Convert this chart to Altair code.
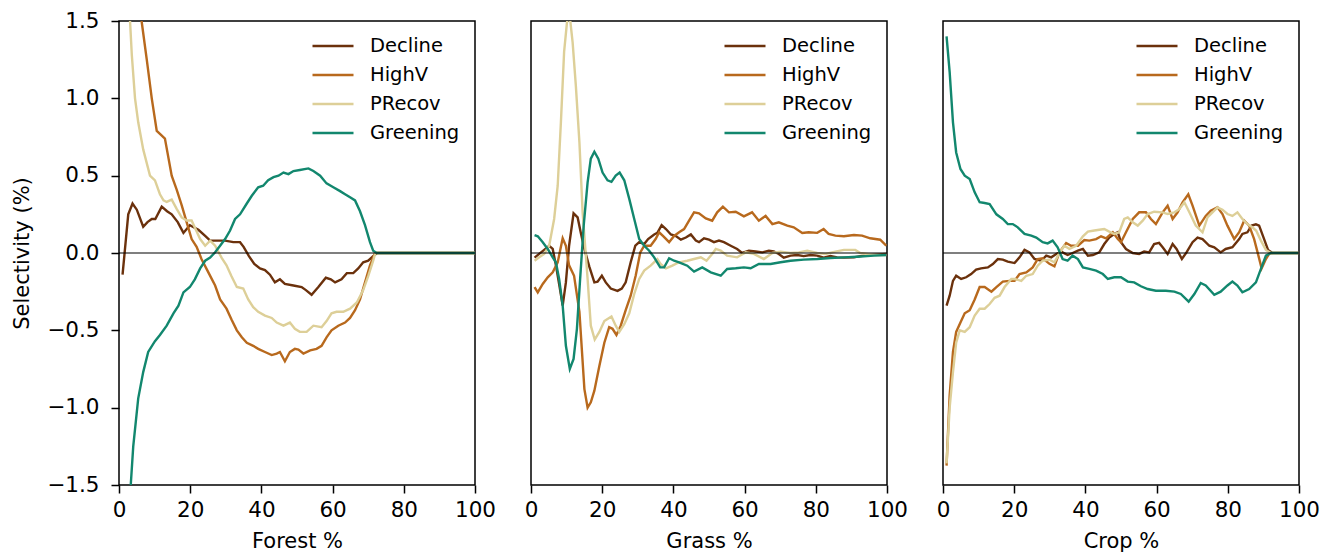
import altair as alt
import pandas as pd

SERIES = ["Decline", "HighV", "PRecov", "Greening"]
COLORS = ["#6b310c", "#b8691d", "#ddcf98", "#12876e"]
X_TICKS = [0, 20, 40, 60, 80, 100]
Y_TICKS = [-1.5, -1.0, -0.5, 0.0, 0.5, 1.0, 1.5]
PANEL_TITLES = ["Forest %", "Grass %", "Crop %"]

# ---------------- Forest panel ----------------
forest_decline = [(1,-0.14),(2.6,0.25),(3.8,0.32),(5,0.28),(6.8,0.17),(8,0.2),(9.2,0.22),(10.2,0.22),(12,0.30),(13.5,0.27),
    (14.8,0.25),(16.5,0.2),(18.1,0.13),(19.9,0.18),(22.3,0.15),(24.2,0.11),(25.6,0.08),(29.8,0.08),(32.1,0.07),(34,0.07),
    (35,0.04),(36.5,-0.02),(38,-0.07),(39.6,-0.10),(41,-0.11),(42.4,-0.14),(43.8,-0.19),(45.2,-0.17),(46.6,-0.20),(49,-0.21),
    (51.3,-0.22),(52.5,-0.24),(54.1,-0.27),(56,-0.22),(58.1,-0.16),(59.5,-0.17),(60.7,-0.19),(62.5,-0.17),(64,-0.13),(65.8,-0.13),
    (67.2,-0.10),(68.6,-0.06),(70,-0.05),(71.4,-0.02),(72.5,0),(100,0)]
forest_highv = [(1,3.0),(2,2.6),(3,2.2),(4,1.9),(5,1.7),(6.4,1.49),(7.8,1.25),(9.2,1.0),(10.6,0.79),(11.5,0.77),(12.9,0.74),
    (14.8,0.5),(16.2,0.41),(17.6,0.31),(19.0,0.20),(20.4,0.09),(21.8,0.04),(23.2,-0.04),(25.1,-0.125),(27,-0.21),(28.4,-0.30),
    (30.2,-0.36),(31.6,-0.43),(33.1,-0.50),(34.5,-0.545),(35.9,-0.58),(37.7,-0.60),(39.1,-0.62),(41,-0.64),(42.9,-0.66),(44.3,-0.65),
    (45.2,-0.64),(46.6,-0.70),(48,-0.64),(49.4,-0.62),(50.4,-0.625),(51.8,-0.65),(53.7,-0.63),(55.5,-0.62),(56.9,-0.60),(58.3,-0.545),
    (59.7,-0.50),(61.6,-0.47),(63.5,-0.45),(64.9,-0.42),(66.3,-0.37),(67.7,-0.30),(69.1,-0.19),(70.5,-0.08),(71.9,0),(100,0)]
forest_precov = [(1,2.5),(2,1.9),(3.1,1.5),(3.6,1.28),(4.5,1.0),(5.4,0.845),(6.8,0.67),(8.7,0.5),(10.1,0.47),(11.5,0.38),(12.5,0.34),
    (13.4,0.33),(14.8,0.345),(16.2,0.285),(17.6,0.23),(19,0.21),(20.4,0.21),(21.3,0.165),(22.8,0.09),(24.2,0.047),(25.6,0.08),
    (27,0.047),(28.8,-0.03),(30.2,-0.08),(31.6,-0.15),(33.1,-0.22),(34.9,-0.23),(36.3,-0.30),(37.7,-0.35),(39.1,-0.38),(41,-0.405),
    (42.9,-0.42),(44.3,-0.45),(46.2,-0.47),(48,-0.45),(49.4,-0.49),(50.8,-0.51),(52.7,-0.51),(54.6,-0.47),(56.9,-0.48),(58.3,-0.44),
    (59.7,-0.39),(61.1,-0.38),(63,-0.38),(64.9,-0.36),(66.8,-0.32),(68.6,-0.24),(70,-0.15),(71.4,-0.05),(72,0),(100,0)]
forest_greening = [(1,-3.2),(2,-2.3),(3.3,-1.5),(4.0,-1.25),(5.4,-0.94),(6.8,-0.77),(8.2,-0.64),(10.1,-0.57),(11.5,-0.53),(13.4,-0.47),
    (15.3,-0.39),(16.7,-0.34),(18.1,-0.255),(19.9,-0.22),(21.3,-0.17),(22.8,-0.10),(24.2,-0.05),(25.6,-0.03),(27,0.005),(28.4,0.047),
    (29.8,0.09),(31.2,0.145),(32.6,0.22),(34,0.25),(35.9,0.32),(37.3,0.37),(39.1,0.425),(40.5,0.435),(41.9,0.47),(43.4,0.49),
    (44.8,0.50),(46.2,0.52),(47.6,0.51),(49,0.53),(50.8,0.537),(53.2,0.547),(54.6,0.53),(56.5,0.50),(58.3,0.45),(60.2,0.425),
    (62.1,0.40),(63.5,0.38),(64.9,0.36),(66.3,0.34),(67.7,0.27),(69.1,0.18),(70.5,0.07),(71.4,0.015),(72.4,0),(100,0)]

# ---------------- Grass panel ----------------
grass_decline = [(1,-0.03),(2.3,-0.006),(3.7,0.02),(5.1,0.047),(6.1,0.026),(7,-0.08),(7.9,-0.20),(8.9,-0.34),(9.8,-0.19),(10.7,0.047),
    (11.96,0.256),(13.1,0.23),(14,0.13),(15,0.026),(16.4,-0.09),(17.8,-0.19),(18.7,-0.185),(19.9,-0.147),(21,-0.19),(22.4,-0.23),
    (24.3,-0.245),(25.5,-0.23),(26.6,-0.19),(28,-0.06),(29.3,0.047),(30.4,0.07),(31.8,0.058),(32.9,0.09),(34.6,0.12),(35.5,0.13),
    (36.7,0.18),(37.9,0.155),(39.3,0.12),(40.7,0.11),(42.1,0.086),(43.5,0.10),(44.9,0.12),(46.3,0.08),(47.2,0.07),(48.6,0.095),
    (50,0.086),(51.4,0.07),(52.8,0.08),(54.2,0.07),(56.1,0.047),(57.9,0.026),(59.3,0),(61.2,0.015),(63.1,0.01),(65,0.004),
    (66.8,0.015),(68.2,0.01),(69.6,-0.006),(71,-0.03),(72.9,-0.017),(74.8,-0.013),(76.6,-0.02),(78.5,-0.013),(80.4,-0.017),(82.2,-0.03),
    (84.1,-0.02),(86,-0.028),(87.9,-0.03),(90.7,-0.028),(92.5,-0.02),(95.3,-0.013),(99.8,-0.006)]
grass_highv = [(1,-0.22),(1.9,-0.255),(3.3,-0.20),(4.7,-0.157),(6.1,-0.125),(7.5,-0.06),(8.9,0.095),(9.8,0.047),(10.7,-0.08),(12.1,-0.147),
    (13.6,-0.38),(15,-0.88),(15.9,-1.0),(16.8,-0.965),(17.8,-0.89),(19.2,-0.73),(20.6,-0.58),(21.96,-0.48),(22.9,-0.49),(24,-0.53),
    (25.2,-0.47),(26.6,-0.37),(28,-0.276),(29.4,-0.147),(30.7,0.004),(31.8,0.047),(33.6,0.047),(35,0.09),(36,0.134),(37.2,0.108),
    (38.8,0.07),(40.2,0.11),(41.6,0.134),(43,0.155),(44.4,0.21),(45.8,0.263),(47.2,0.256),(49.1,0.224),(50.9,0.209),(52.3,0.263),
    (53.9,0.30),(55.6,0.263),(57.5,0.267),(59.8,0.237),(62.1,0.263),(64,0.209),(65.9,0.24),(67.8,0.187),(69.6,0.198),(72,0.177),
    (73.8,0.166),(76.2,0.13),(78,0.134),(80.4,0.13),(82.2,0.155),(83.6,0.123),(85.5,0.112),(87.9,0.108),(90.7,0.116),(93,0.112),
    (95.3,0.095),(98.1,0.086),(99.8,0.047)]
grass_precov = [(1,-0.05),(2.3,-0.028),(3.7,-0.006),(5.1,0.047),(6.5,0.22),(7.5,0.435),(8.4,0.845),(9.3,1.30),(10.1,1.49),(10.8,1.55),
    (11.7,1.36),(12.6,1.08),(13.6,0.716),(14.5,0.263),(15.9,-0.168),(16.8,-0.47),(17.9,-0.56),(19.2,-0.51),(20.6,-0.44),(22.6,-0.41),
    (23.8,-0.47),(24.8,-0.51),(26.2,-0.46),(27.6,-0.39),(29,-0.265),(30.4,-0.168),(31.8,-0.114),(33.6,-0.082),(35.5,-0.039),(36.4,-0.07),
    (37.9,-0.10),(39.7,-0.082),(41.6,-0.06),(43.9,-0.05),(45.8,-0.039),(47.7,-0.028),(49.3,-0.05),(50.9,-0.006),(51.9,0.026),(53.3,0.015),
    (55.1,-0.017),(57.9,-0.028),(60.3,0.004),(62.6,-0.006),(65.4,-0.039),(67.8,0),(70.1,0.009),(72.9,0),(75.2,0.004),(77.6,0.015),
    (80.4,0),(82.7,-0.006),(85.5,0.009),(87.9,0.02),(91.1,0.02),(92.5,0),(96.3,-0.013),(99.8,-0.013)]
grass_greening = [(1,0.116),(1.9,0.108),(3.3,0.07),(4.7,0.026),(6.1,-0.028),(7,-0.06),(7.9,-0.168),(8.9,-0.34),(9.8,-0.60),(10.9,-0.75),
    (11.96,-0.685),(12.9,-0.49),(13.8,-0.168),(14.8,0.177),(15.9,0.457),(16.8,0.61),(17.8,0.655),(18.9,0.61),(20.1,0.52),(21.5,0.47),
    (22.6,0.46),(23.8,0.50),(24.9,0.52),(26.2,0.47),(27.6,0.35),(29,0.22),(30.4,0.09),(31.8,0.047),(33.2,0.015),(34.6,-0.028),
    (36.3,-0.093),(37.4,-0.093),(38.8,-0.034),(40.2,-0.05),(41.6,-0.06),(43.9,-0.082),(45.8,-0.12),(48.1,-0.093),(50.5,-0.125),(53.3,-0.147),
    (55.1,-0.103),(57.5,-0.099),(59.8,-0.093),(61.7,-0.099),(64,-0.071),(67.3,-0.071),(70.1,-0.06),(72.9,-0.05),(76.6,-0.043),(80.4,-0.039),
    (84.1,-0.032),(87.9,-0.028),(91.6,-0.024),(96.3,-0.017),(99.8,-0.013)]

# ---------------- Crop panel ----------------
crop_decline = [(1,-0.34),(1.87,-0.276),(2.8,-0.18),(3.7,-0.147),(5.1,-0.168),(6.5,-0.157),(7.9,-0.136),(9.3,-0.108),(10.7,-0.099),(12.6,-0.093),
    (14,-0.071),(15.4,-0.039),(16.8,-0.043),(18.2,-0.056),(20.1,-0.065),(21.5,-0.028),(22.9,0.02),(24.3,0.004),(25.7,-0.039),(27.6,-0.05),
    (29,-0.017),(30.4,-0.028),(31.8,-0.006),(33.2,0.009),(35,-0.013),(36.4,0),(37.9,0.015),(39.3,0.026),(40.7,-0.017),(42.1,-0.013),
    (43.9,0.004),(45.3,0.058),(46.7,0.10),(48.1,0.123),(49.1,0.134),(50,0.07),(51.4,0.026),(53.3,0),(55.1,-0.006),(56.5,0.009),
    (57.9,0.004),(59.3,0.058),(60.7,0.065),(61.7,0.037),(63.1,-0.006),(64.5,0.058),(65.6,0.026),(67.1,-0.039),(68.4,0.004),(70.1,0.07),
    (71.5,0.10),(72.9,0.09),(74.8,0.047),(76.2,0.037),(78,0.004),(79.4,0.026),(81.3,0.037),(83.2,0.09),(84.1,0.123),(85.5,0.134),
    (86.7,0.177),(87.9,0.185),(88.8,0.177),(90.2,0.09),(91.3,0.02),(92.5,0),(99.8,0)]
crop_highv = [(1,-1.375),(1.87,-0.92),(2.8,-0.64),(3.7,-0.51),(4.9,-0.45),(6.1,-0.39),(7.5,-0.37),(8.9,-0.30),(10.3,-0.22),(11.7,-0.22),
    (13.6,-0.25),(15,-0.22),(16.8,-0.185),(18.7,-0.18),(20.1,-0.18),(21.5,-0.136),(23.4,-0.125),(25.2,-0.093),(26.6,-0.039),(28,-0.034),
    (29.9,-0.07),(31.3,-0.086),(32.7,0.004),(34.6,0.065),(36,0.047),(37.9,0.047),(39.7,0.084),(41.1,0.08),(43,0.09),(44.4,0.108),
    (45.8,0.095),(47.7,0.134),(49.1,0.09),(50,0.07),(51.4,0.134),(53.3,0.22),(55.1,0.263),(57,0.263),(58.4,0.22),(59.8,0.187),
    (61.7,0.263),(63.1,0.306),(64.5,0.22),(65.9,0.263),(67.3,0.328),(68.9,0.38),(70.1,0.306),(72,0.177),(73.8,0.24),(75.2,0.274),
    (77.1,0.295),(78.5,0.252),(79.9,0.177),(81.8,0.09),(83.2,0.134),(84.6,0.209),(86,0.177),(87.4,0.09),(88.6,-0.017),(89.5,-0.099),
    (90.7,-0.039),(91.6,-0.006),(92.5,0),(99.8,0)]
crop_precov = [(1,-1.36),(1.87,-1.0),(2.8,-0.77),(3.7,-0.58),(4.7,-0.50),(6.1,-0.51),(7.5,-0.48),(8.9,-0.405),(10.3,-0.36),(11.7,-0.36),
    (13.1,-0.33),(14.5,-0.29),(15.9,-0.276),(17.3,-0.22),(19.2,-0.168),(20.1,-0.168),(22,-0.18),(23.4,-0.147),(25.2,-0.136),(26.6,-0.082),
    (28,-0.05),(29.9,-0.043),(31.3,-0.06),(32.7,0),(34.1,0.047),(35.5,0.026),(37.4,0.047),(39.3,0.108),(40.7,0.138),(42.1,0.144),
    (43.9,0.15),(45.3,0.155),(46.7,0.138),(48.1,0.123),(49.5,0.134),(50.9,0.22),(51.9,0.23),(53.3,0.198),(54.7,0.177),(56.1,0.209),
    (57.5,0.252),(59.3,0.267),(61.7,0.263),(63.1,0.252),(65,0.263),(66.4,0.284),(67.8,0.328),(69.2,0.263),(71,0.177),(72.9,0.134),
    (74.3,0.23),(75.7,0.263),(77.1,0.295),(78.5,0.28),(79.9,0.252),(81.3,0.24),(82.7,0.263),(84.1,0.22),(85.5,0.187),(86.9,0.166),
    (88,0.144),(89.3,0.08),(90.7,0.02),(92.1,0),(99.8,0)]
crop_greening = [(1,1.40),(1.87,1.17),(2.8,0.845),(3.7,0.65),(4.9,0.543),(6.1,0.50),(7.5,0.478),(8.9,0.392),(10.3,0.328),(11.7,0.323),
    (13.1,0.317),(15,0.25),(16.8,0.22),(18.2,0.187),(19.6,0.187),(21,0.166),(22.9,0.123),(24.8,0.112),(26.2,0.10),(28,0.07),
    (29.4,0.062),(30.8,0.08),(32.2,0.037),(33.6,-0.039),(35,-0.05),(36.4,-0.017),(37.9,-0.039),(39.3,-0.093),(41.1,-0.103),(43,-0.114),
    (44.9,-0.136),(46.3,-0.168),(48.1,-0.157),(50,-0.157),(51.9,-0.185),(53.7,-0.19),(55.6,-0.215),(57.5,-0.233),(59.8,-0.244),(62.6,-0.244),
    (65,-0.25),(66.8,-0.265),(69,-0.315),(70.6,-0.265),(72.4,-0.194),(73.8,-0.21),(76.2,-0.27),(78,-0.25),(79.9,-0.21),(81.3,-0.185),
    (82.7,-0.21),(84.1,-0.254),(86,-0.233),(87.9,-0.19),(89.3,-0.103),(90.7,-0.017),(92.1,0),(99.8,0)]

PANELS = [
    [forest_decline, forest_highv, forest_precov, forest_greening],
    [grass_decline, grass_highv, grass_precov, grass_greening],
    [crop_decline, crop_highv, crop_precov, crop_greening],
]

FONT = "DejaVu Sans"
FS_TICK = 21.5
FS_TITLE = 21
FS_LEG = 19.5
W, H = 356, 464


def make_panel(series_list, title, first):
    rows = []
    for name, pts in zip(SERIES, series_list):
        for i, (x, y) in enumerate(pts):
            rows.append({"series": name, "x": x, "y": y, "i": i})
    df = pd.DataFrame(rows)

    if first:
        yaxis = alt.Axis(values=Y_TICKS, format=".1f", title="Selectivity (%)", grid=False,
                         domain=False, tickSize=8, tickWidth=1.5, tickColor="black",
                         labelPadding=12, titlePadding=14, labelFontSize=FS_TICK, titleFontSize=FS_TITLE,
                         labelColor="black", titleColor="black", titleFontWeight="normal",
                         labelFont=FONT, titleFont=FONT)
    else:
        yaxis = None

    xaxis = alt.Axis(values=X_TICKS, title=title, grid=False, domain=False, tickSize=8,
                     tickWidth=1.5, tickColor="black", labelPadding=6, titlePadding=10,
                     labelFontSize=FS_TICK, titleFontSize=FS_TITLE, labelColor="black", titleColor="black",
                     titleFontWeight="normal", labelFlush=False, labelFont=FONT, titleFont=FONT)

    lines = alt.Chart(df).mark_line(clip=True, strokeWidth=2.4).encode(
        x=alt.X("x:Q", scale=alt.Scale(domain=[0, 100], nice=False, zero=False), axis=xaxis),
        y=alt.Y("y:Q", scale=alt.Scale(domain=[-1.5, 1.5], nice=False, zero=False), axis=yaxis),
        color=alt.Color("series:N", scale=alt.Scale(domain=SERIES, range=COLORS),
                        legend=alt.Legend(title=None, orient="none", legendX=192, legendY=15,
                                          symbolType="stroke", symbolSize=1681, symbolStrokeWidth=2.5,
                                          clipHeight=20, rowPadding=9,
                                          labelFontSize=FS_LEG, labelFont=FONT, labelColor="black",
                                          labelOffset=15, padding=0)),
        order=alt.Order("i:Q"),
    )
    zero = alt.Chart(pd.DataFrame({"z": [0.0]})).mark_rule(color="black", strokeWidth=1.2).encode(
        y=alt.Y("z:Q")
    )
    return alt.layer(lines, zero).properties(width=W, height=H)


panels = [make_panel(PANELS[k], PANEL_TITLES[k], k == 0) for k in range(3)]

chart = alt.hconcat(*panels, spacing=56, bounds="flush").resolve_legend(
    color="independent"
).properties(
    padding={"left": 11, "top": 9, "right": 10, "bottom": 5}
).configure(
    font=FONT, background="white",
    view=alt.ViewConfig(stroke="black", strokeWidth=1.5),
)

chart.save("out.html", embed_options={"renderer": "svg", "actions": False})
